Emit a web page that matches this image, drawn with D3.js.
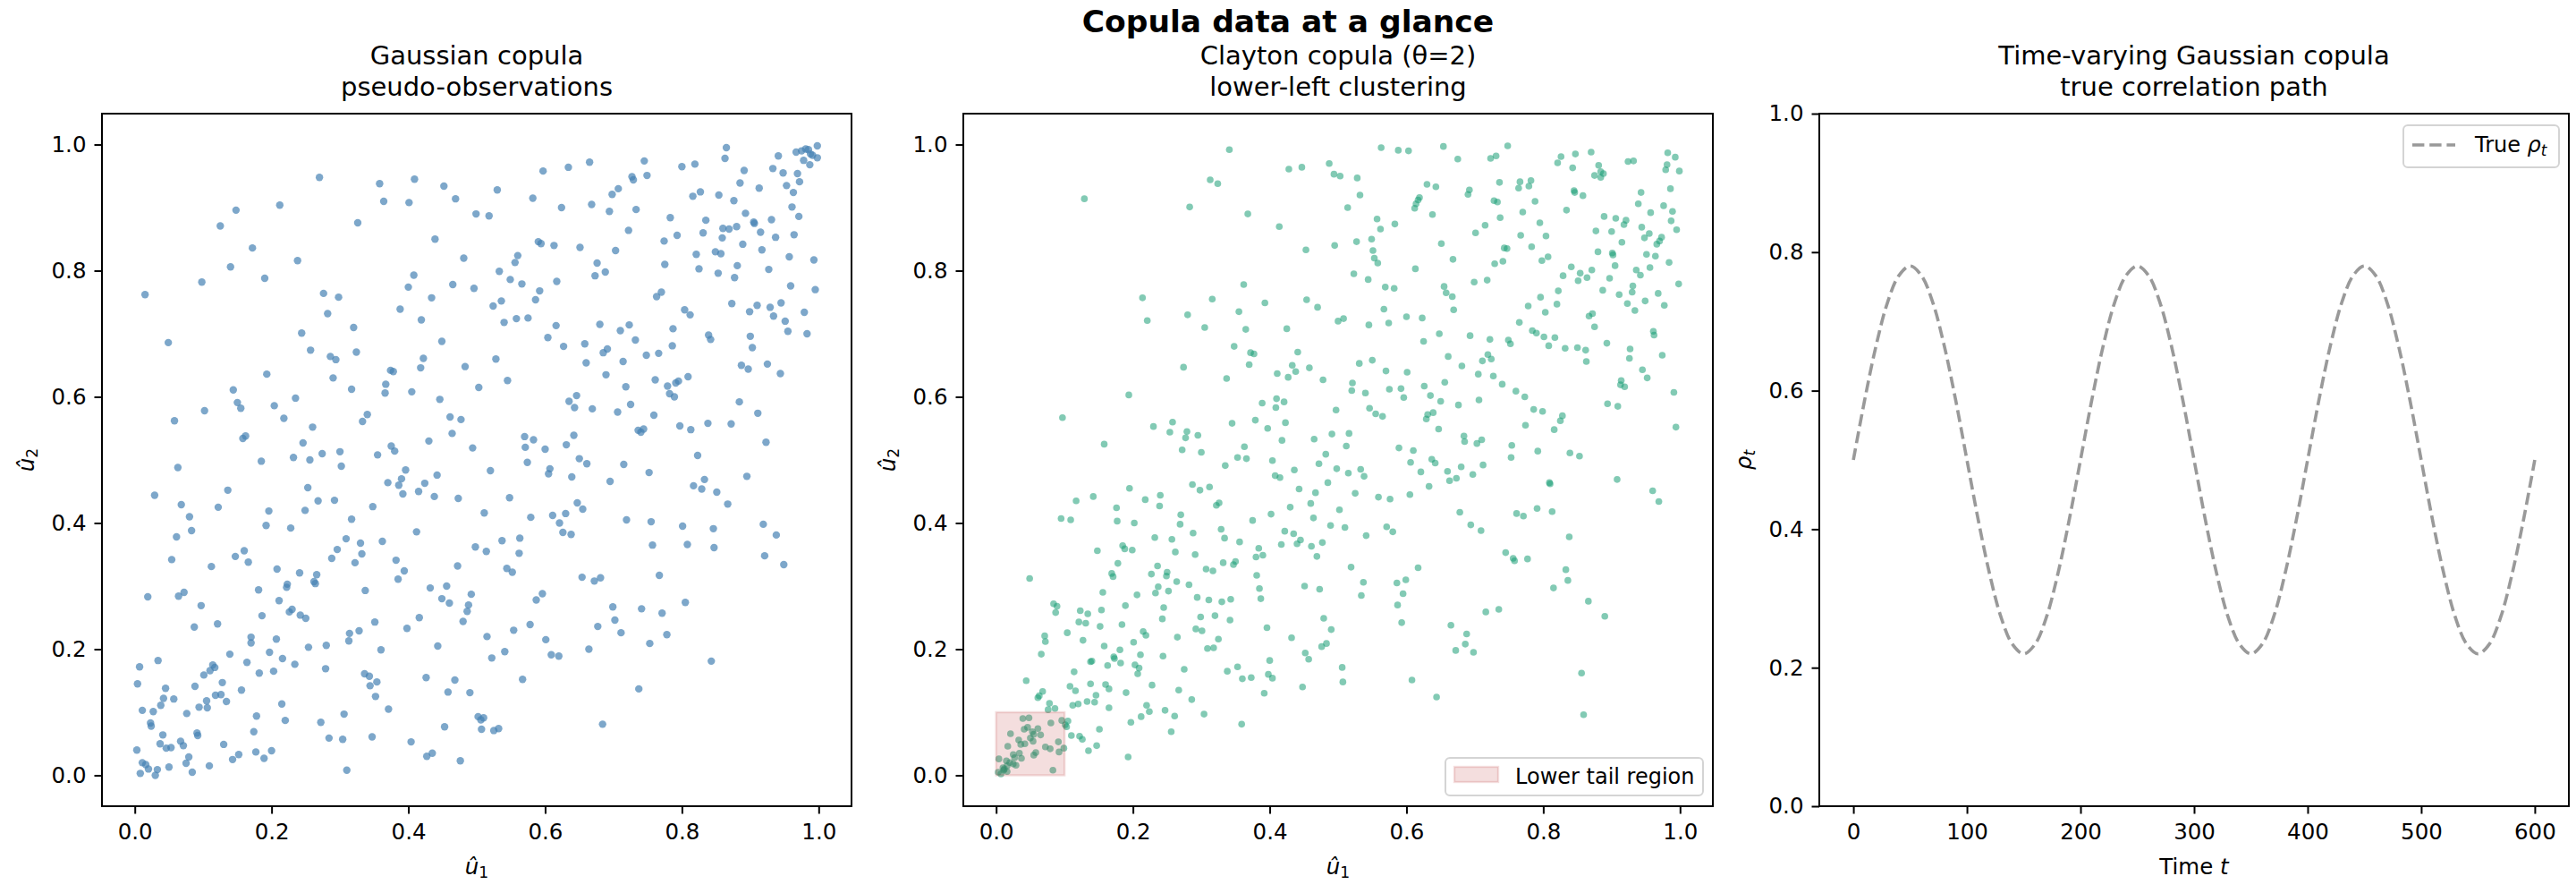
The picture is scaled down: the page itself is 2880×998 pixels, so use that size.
<!DOCTYPE html>
<html>
<head>
<meta charset="utf-8">
<script src="https://d3js.org/d3.v7.min.js"></script>
<style>
  body { margin: 0; background: #fff; }
  svg { display: block; }
</style>
</head>
<body>
<script>
// pseudo-observations, [u1, u2]
const gaussianPoints = [
  [0.270,0.948],[0.358,0.938],[0.409,0.945],[0.452,0.934],[0.469,0.914],[0.364,0.910],[0.401,0.908],[0.212,0.904],[0.148,0.896],[0.125,0.871],
  [0.326,0.876],[0.439,0.850],[0.172,0.836],[0.238,0.816],[0.140,0.806],[0.481,0.820],[0.408,0.793],[0.098,0.782],[0.190,0.788],[0.465,0.778],
  [0.400,0.774],[0.015,0.762],[0.276,0.764],[0.298,0.758],[0.434,0.757],[0.388,0.739],[0.282,0.732],[0.419,0.722],[0.320,0.710],[0.244,0.701],
  [0.449,0.688],[0.049,0.686],[0.257,0.674],[0.286,0.664],[0.294,0.659],[0.324,0.671],[0.422,0.661],[0.418,0.646],[0.374,0.642],[0.378,0.640],
  [0.193,0.636],[0.290,0.630],[0.367,0.620],[0.144,0.611],[0.317,0.612],[0.366,0.606],[0.405,0.608],[0.235,0.598],[0.446,0.596],[0.150,0.591],
  [0.155,0.582],[0.204,0.586],[0.102,0.578],[0.340,0.572],[0.058,0.562],[0.218,0.566],[0.333,0.561],[0.461,0.568],[0.477,0.564],[0.260,0.552],
  [0.464,0.542],[0.158,0.534],[0.162,0.538],[0.430,0.530],[0.246,0.527],[0.375,0.522],[0.380,0.514],[0.274,0.510],[0.300,0.513],[0.355,0.508],
  [0.865,0.995],[0.863,0.978],[0.967,0.988],[0.975,0.990],[0.981,0.993],[0.985,0.992],[0.988,0.985],[0.991,0.983],[0.998,0.998],[0.998,0.979],
  [0.978,0.975],[0.987,0.968],[0.941,0.982],[0.933,0.962],[0.948,0.955],[0.969,0.954],[0.972,0.941],[0.953,0.935],[0.963,0.924],[0.961,0.901],
  [0.971,0.886],[0.964,0.857],[0.937,0.853],[0.931,0.881],[0.913,0.931],[0.891,0.959],[0.885,0.939],[0.876,0.911],[0.854,0.920],[0.827,0.925],
  [0.816,0.918],[0.819,0.969],[0.800,0.965],[0.745,0.974],[0.749,0.951],[0.727,0.949],[0.729,0.944],[0.707,0.930],[0.698,0.921],[0.665,0.972],
  [0.634,0.964],[0.597,0.958],[0.582,0.915],[0.530,0.928],[0.499,0.890],[0.518,0.887],[0.624,0.900],[0.668,0.905],[0.694,0.894],[0.733,0.897],
  [0.783,0.884],[0.722,0.864],[0.793,0.856],[0.774,0.847],[0.835,0.880],[0.831,0.860],[0.860,0.867],[0.869,0.866],[0.880,0.870],[0.859,0.852],
  [0.893,0.891],[0.905,0.877],[0.906,0.875],[0.915,0.861],[0.889,0.842],[0.917,0.833],[0.849,0.830],[0.857,0.827],[0.821,0.826],[0.825,0.803],
  [0.853,0.796],[0.877,0.789],[0.881,0.808],[0.927,0.802],[0.957,0.822],[0.993,0.817],[0.959,0.776],[0.995,0.770],[0.590,0.846],[0.594,0.843],
  [0.613,0.840],[0.651,0.837],[0.703,0.832],[0.560,0.824],[0.556,0.813],[0.533,0.799],[0.549,0.786],[0.566,0.779],[0.496,0.772],[0.617,0.783],
  [0.676,0.812],[0.688,0.798],[0.673,0.792],[0.775,0.810],[0.592,0.768],[0.586,0.754],[0.536,0.752],[0.524,0.744],[0.540,0.718],[0.558,0.724],
  [0.575,0.725],[0.616,0.713],[0.604,0.694],[0.627,0.680],[0.658,0.684],[0.680,0.715],[0.710,0.705],[0.723,0.714],[0.732,0.690],[0.685,0.670],
  [0.691,0.676],[0.714,0.656],[0.748,0.666],[0.766,0.669],[0.660,0.654],[0.689,0.635],[0.718,0.616],[0.761,0.627],[0.779,0.617],[0.782,0.605],
  [0.789,0.600],[0.791,0.622],[0.795,0.625],[0.809,0.632],[0.786,0.681],[0.787,0.708],[0.804,0.738],[0.812,0.730],[0.763,0.759],[0.770,0.766],
  [0.873,0.748],[0.899,0.735],[0.910,0.745],[0.929,0.742],[0.945,0.749],[0.934,0.728],[0.951,0.720],[0.955,0.704],[0.979,0.734],[0.983,0.700],
  [0.900,0.696],[0.903,0.678],[0.839,0.698],[0.842,0.691],[0.887,0.650],[0.897,0.644],[0.925,0.652],[0.944,0.637],[0.884,0.592],[0.911,0.574],
  [0.923,0.528],[0.872,0.557],[0.838,0.558],[0.813,0.548],[0.797,0.554],[0.823,0.507],[0.759,0.571],[0.725,0.588],[0.706,0.576],[0.669,0.581],
  [0.643,0.583],[0.635,0.593],[0.646,0.602],[0.736,0.547],[0.740,0.544],[0.744,0.549],[0.642,0.539],[0.631,0.524],[0.570,0.537],[0.583,0.532],
  [0.571,0.520],[0.600,0.517],[0.494,0.519],[0.483,0.648],[0.528,0.660],[0.503,0.615],[0.545,0.626],
  [0.185,0.498],[0.232,0.504],[0.256,0.500],[0.302,0.490],[0.063,0.488],[0.029,0.444],[0.068,0.429],[0.136,0.452],[0.122,0.425],[0.080,0.410],
  [0.083,0.388],[0.061,0.378],[0.054,0.342],[0.112,0.331],[0.147,0.347],[0.160,0.356],[0.166,0.338],[0.196,0.419],[0.192,0.396],[0.228,0.392],
  [0.249,0.420],[0.253,0.456],[0.268,0.435],[0.292,0.436],[0.317,0.406],[0.309,0.375],[0.296,0.358],[0.288,0.344],[0.330,0.368],[0.332,0.351],
  [0.322,0.337],[0.348,0.426],[0.370,0.464],[0.386,0.460],[0.390,0.470],[0.396,0.484],[0.392,0.446],[0.415,0.450],[0.424,0.463],[0.442,0.476],
  [0.438,0.442],[0.473,0.439],[0.412,0.386],[0.362,0.371],[0.382,0.341],[0.394,0.324],[0.385,0.311],[0.337,0.293],[0.432,0.297],[0.456,0.300],
  [0.449,0.280],[0.460,0.273],[0.472,0.332],[0.480,0.244],[0.019,0.283],[0.064,0.284],[0.072,0.290],[0.097,0.269],[0.087,0.235],[0.121,0.240],
  [0.181,0.294],[0.208,0.327],[0.241,0.321],[0.223,0.303],[0.222,0.298],[0.211,0.277],[0.186,0.253],[0.226,0.259],[0.230,0.263],[0.242,0.254],
  [0.250,0.249],[0.266,0.318],[0.262,0.307],[0.264,0.304],[0.170,0.219],[0.170,0.210],[0.207,0.216],[0.197,0.195],[0.216,0.185],[0.234,0.176],
  [0.254,0.203],[0.280,0.206],[0.314,0.225],[0.313,0.213],[0.328,0.229],[0.351,0.243],[0.360,0.199],[0.398,0.233],[0.416,0.250],[0.443,0.205],
  [0.139,0.192],[0.164,0.179],[0.034,0.182],[0.007,0.172],[0.004,0.145],[0.114,0.175],[0.117,0.171],[0.110,0.166],[0.101,0.159],[0.182,0.162],
  [0.203,0.165],[0.279,0.169],[0.336,0.161],[0.343,0.157],[0.354,0.148],[0.344,0.142],[0.352,0.125],[0.371,0.105],[0.426,0.155],[0.468,0.151],
  [0.458,0.132],[0.045,0.138],[0.042,0.122],[0.057,0.121],[0.038,0.111],[0.088,0.141],[0.128,0.147],[0.156,0.135],[0.118,0.127],[0.126,0.128],
  [0.134,0.117],[0.105,0.118],[0.094,0.108],[0.106,0.107],[0.076,0.098],[0.011,0.103],[0.027,0.101],[0.023,0.083],[0.024,0.078],[0.215,0.113],
  [0.178,0.094],[0.220,0.087],[0.272,0.084],[0.306,0.097],[0.041,0.064],[0.091,0.067],[0.092,0.063],[0.174,0.069],[0.067,0.054],[0.071,0.047],
  [0.037,0.050],[0.046,0.043],[0.053,0.044],[0.003,0.040],[0.130,0.049],[0.152,0.033],[0.143,0.025],[0.177,0.037],[0.200,0.039],[0.189,0.027],
  [0.284,0.059],[0.304,0.057],[0.347,0.061],[0.404,0.053],[0.427,0.030],[0.435,0.035],[0.453,0.077],[0.476,0.023],[0.310,0.008],[0.079,0.029],
  [0.075,0.019],[0.011,0.020],[0.016,0.017],[0.020,0.010],[0.033,0.009],[0.050,0.013],[0.008,0.003],[0.030,0.000],[0.084,0.005],[0.109,0.015],
  [0.574,0.496],[0.520,0.483],[0.607,0.486],[0.605,0.478],[0.650,0.502],[0.661,0.494],[0.715,0.493],[0.752,0.480],[0.639,0.473],[0.695,0.466],
  [0.817,0.459],[0.829,0.454],[0.833,0.469],[0.851,0.449],[0.867,0.430],[0.895,0.474],[0.548,0.440],[0.511,0.416],[0.579,0.409],[0.611,0.412],
  [0.621,0.400],[0.630,0.415],[0.647,0.432],[0.655,0.422],[0.626,0.385],[0.638,0.382],[0.719,0.405],[0.755,0.402],[0.801,0.395],[0.846,0.391],
  [0.919,0.398],[0.938,0.381],[0.921,0.348],[0.949,0.334],[0.537,0.372],[0.563,0.376],[0.498,0.362],[0.514,0.355],[0.562,0.352],[0.544,0.328],
  [0.552,0.322],[0.654,0.314],[0.672,0.308],[0.681,0.313],[0.757,0.365],[0.808,0.366],[0.847,0.361],[0.767,0.317],[0.492,0.287],[0.488,0.270],
  [0.486,0.260],[0.596,0.288],[0.587,0.278],[0.699,0.267],[0.741,0.264],[0.771,0.257],[0.805,0.274],[0.702,0.246],[0.677,0.236],[0.711,0.226],
  [0.778,0.223],[0.753,0.209],[0.554,0.230],[0.578,0.239],[0.515,0.220],[0.601,0.215],[0.541,0.196],[0.522,0.186],[0.609,0.191],[0.620,0.189],
  [0.664,0.200],[0.843,0.181],[0.567,0.152],[0.737,0.137],[0.490,0.131],[0.502,0.093],[0.506,0.088],[0.510,0.091],[0.507,0.073],[0.525,0.071],
  [0.532,0.074],[0.684,0.081]
];

const claytonPoints = [
  [0.341,0.992],[0.428,0.961],[0.447,0.964],[0.313,0.944],[0.324,0.938],[0.129,0.914],[0.283,0.901],[0.368,0.890],[0.414,0.870],[0.453,0.833],
  [0.362,0.778],[0.214,0.757],[0.316,0.755],[0.393,0.749],[0.454,0.754],[0.355,0.735],[0.221,0.721],[0.280,0.730],[0.305,0.710],[0.365,0.707],
  [0.425,0.708],[0.348,0.680],[0.372,0.670],[0.377,0.668],[0.441,0.671],[0.274,0.647],[0.370,0.651],[0.433,0.650],[0.438,0.640],[0.458,0.646],
  [0.411,0.637],[0.427,0.631],[0.337,0.629],[0.194,0.603],[0.410,0.597],[0.421,0.592],[0.389,0.590],[0.409,0.583],[0.097,0.567],[0.258,0.560],
  [0.230,0.553],[0.345,0.558],[0.379,0.563],[0.423,0.559],[0.397,0.550],[0.254,0.544],[0.279,0.545],[0.277,0.535],[0.295,0.539],[0.418,0.531],
  [0.465,0.533],[0.158,0.525],[0.272,0.516],[0.300,0.512],[0.363,0.521],
  [0.563,0.995],[0.588,0.991],[0.603,0.990],[0.654,0.997],[0.675,0.977],[0.723,0.978],[0.731,0.982],[0.748,0.998],[0.821,0.971],[0.826,0.981],
  [0.847,0.985],[0.843,0.963],[0.870,0.988],[0.881,0.967],[0.884,0.957],[0.888,0.954],[0.875,0.951],[0.884,0.948],[0.924,0.973],[0.932,0.974],
  [0.982,0.987],[0.993,0.980],[0.981,0.968],[0.979,0.960],[0.999,0.958],[0.487,0.970],[0.494,0.953],[0.503,0.950],[0.528,0.947],[0.630,0.937],
  [0.643,0.933],[0.692,0.928],[0.690,0.921],[0.619,0.916],[0.617,0.912],[0.614,0.906],[0.612,0.899],[0.532,0.920],[0.514,0.900],[0.638,0.889],
  [0.736,0.940],[0.766,0.941],[0.782,0.943],[0.764,0.931],[0.779,0.934],[0.728,0.911],[0.733,0.909],[0.788,0.910],[0.770,0.893],[0.737,0.884],
  [0.845,0.927],[0.846,0.924],[0.858,0.919],[0.943,0.924],[0.986,0.930],[0.939,0.906],[0.976,0.903],[0.989,0.894],[0.957,0.892],[0.834,0.896],
  [0.889,0.886],[0.906,0.883],[0.921,0.880],[0.918,0.873],[0.557,0.882],[0.562,0.866],[0.583,0.874],[0.549,0.850],[0.527,0.846],[0.495,0.840],
  [0.551,0.832],[0.553,0.820],[0.558,0.812],[0.651,0.843],[0.668,0.818],[0.701,0.860],[0.715,0.872],[0.767,0.856],[0.795,0.876],[0.804,0.855],
  [0.783,0.838],[0.743,0.836],[0.747,0.835],[0.729,0.811],[0.741,0.815],[0.798,0.816],[0.807,0.822],[0.877,0.863],[0.900,0.862],[0.944,0.869],
  [0.955,0.859],[0.948,0.852],[0.973,0.853],[0.970,0.847],[0.966,0.842],[0.995,0.865],[0.987,0.879],[0.915,0.845],[0.880,0.830],[0.901,0.828],
  [0.902,0.825],[0.951,0.826],[0.964,0.823],[0.984,0.813],[0.998,0.779],[0.613,0.803],[0.523,0.795],[0.544,0.786],[0.569,0.774],[0.582,0.772],
  [0.655,0.775],[0.658,0.765],[0.667,0.759],[0.669,0.738],[0.699,0.782],[0.718,0.785],[0.841,0.806],[0.854,0.796],[0.864,0.789],[0.871,0.801],
  [0.851,0.784],[0.829,0.792],[0.822,0.768],[0.796,0.758],[0.778,0.744],[0.803,0.734],[0.820,0.747],[0.905,0.808],[0.936,0.801],[0.942,0.793],
  [0.956,0.805],[0.897,0.788],[0.887,0.769],[0.911,0.762],[0.931,0.776],[0.930,0.766],[0.923,0.748],[0.934,0.737],[0.949,0.752],[0.968,0.764],
  [0.977,0.745],[0.470,0.742],[0.567,0.739],[0.500,0.720],[0.508,0.724],[0.545,0.714],[0.574,0.717],[0.600,0.727],[0.623,0.725],[0.648,0.700],
  [0.625,0.688],[0.661,0.664],[0.693,0.697],[0.722,0.691],[0.749,0.690],[0.752,0.684],[0.719,0.667],[0.711,0.657],[0.724,0.660],[0.765,0.718],
  [0.784,0.705],[0.790,0.701],[0.801,0.695],[0.817,0.694],[0.808,0.681],[0.832,0.677],[0.850,0.678],[0.862,0.674],[0.863,0.656],[0.867,0.728],
  [0.872,0.732],[0.875,0.711],[0.893,0.685],[0.927,0.676],[0.926,0.661],[0.961,0.704],[0.962,0.698],[0.974,0.666],[0.531,0.653],[0.550,0.658],
  [0.478,0.627],[0.521,0.622],[0.520,0.610],[0.540,0.606],[0.570,0.641],[0.601,0.639],[0.575,0.612],[0.592,0.613],[0.596,0.599],[0.626,0.617],
  [0.635,0.602],[0.650,0.593],[0.656,0.623],[0.681,0.649],[0.705,0.636],[0.727,0.633],[0.740,0.620],[0.760,0.609],[0.773,0.600],[0.706,0.595],
  [0.676,0.587],[0.497,0.579],[0.546,0.582],[0.555,0.573],[0.565,0.569],[0.629,0.565],[0.631,0.572],[0.639,0.575],[0.647,0.549],[0.786,0.580],
  [0.799,0.577],[0.828,0.570],[0.825,0.562],[0.816,0.548],[0.774,0.555],[0.945,0.643],[0.952,0.630],[0.914,0.626],[0.913,0.619],[0.919,0.616],
  [0.991,0.607],[0.894,0.589],[0.909,0.585],[0.994,0.552],[0.491,0.541],[0.516,0.542],[0.512,0.522],[0.482,0.509],[0.589,0.519],[0.610,0.515],
  [0.684,0.538],[0.685,0.529],[0.703,0.526],[0.710,0.532],[0.754,0.523],[0.792,0.514],[0.839,0.511],[0.853,0.506],
  [0.353,0.504],[0.366,0.502],[0.404,0.499],[0.335,0.491],[0.436,0.484],[0.408,0.475],[0.415,0.472],[0.287,0.461],[0.298,0.452],[0.312,0.457],
  [0.195,0.455],[0.117,0.435],[0.142,0.442],[0.176,0.424],[0.218,0.437],[0.240,0.444],[0.239,0.427],[0.322,0.428],[0.326,0.432],[0.443,0.454],
  [0.460,0.431],[0.430,0.425],[0.402,0.414],[0.464,0.408],[0.270,0.413],[0.269,0.398],[0.095,0.407],[0.109,0.405],[0.177,0.403],[0.202,0.400],
  [0.329,0.390],[0.334,0.376],[0.288,0.384],[0.232,0.377],[0.257,0.374],[0.375,0.404],[0.422,0.387],[0.435,0.383],[0.445,0.373],[0.440,0.367],
  [0.417,0.366],[0.461,0.363],[0.356,0.370],[0.384,0.360],[0.380,0.346],[0.390,0.349],[0.262,0.354],[0.291,0.350],[0.148,0.356],[0.185,0.364],
  [0.188,0.359],[0.199,0.357],[0.178,0.336],[0.169,0.320],[0.171,0.315],[0.227,0.319],[0.236,0.332],[0.250,0.322],[0.249,0.316],[0.264,0.307],
  [0.307,0.327],[0.317,0.324],[0.332,0.337],[0.347,0.334],[0.350,0.339],[0.381,0.317],[0.385,0.296],[0.387,0.280],[0.451,0.300],[0.049,0.312],
  [0.237,0.299],[0.233,0.289],[0.252,0.292],[0.282,0.302],[0.156,0.290],[0.206,0.286],[0.294,0.282],[0.311,0.278],[0.330,0.275],[0.343,0.279],
  [0.084,0.272],[0.089,0.268],[0.087,0.258],[0.189,0.269],[0.245,0.266],[0.243,0.248],[0.299,0.251],[0.320,0.253],[0.342,0.246],[0.123,0.261],
  [0.134,0.256],[0.121,0.243],[0.131,0.241],[0.154,0.262],[0.152,0.236],[0.184,0.239],[0.104,0.226],[0.292,0.232],[0.301,0.229],[0.325,0.216],
  [0.309,0.201],[0.318,0.202],[0.396,0.234],[0.432,0.218],[0.265,0.219],[0.215,0.228],[0.219,0.222],[0.201,0.211],[0.071,0.221],[0.072,0.212],
  [0.127,0.214],[0.158,0.205],[0.066,0.192],[0.181,0.199],[0.211,0.191],[0.244,0.189],[0.140,0.181],[0.138,0.180],[0.172,0.188],[0.173,0.185],
  [0.182,0.178],[0.163,0.174],[0.203,0.175],[0.209,0.170],[0.207,0.161],[0.275,0.168],[0.338,0.165],[0.353,0.172],[0.360,0.153],[0.373,0.155],
  [0.398,0.160],[0.404,0.154],[0.400,0.182],[0.452,0.194],[0.457,0.184],[0.448,0.140],[0.392,0.130],[0.114,0.164],[0.044,0.150],[0.108,0.141],
  [0.116,0.134],[0.138,0.145],[0.160,0.144],[0.165,0.137],[0.146,0.127],[0.228,0.143],[0.267,0.135],[0.190,0.131],[0.068,0.133],[0.063,0.126],
  [0.061,0.123],[0.078,0.114],[0.076,0.104],[0.086,0.106],[0.112,0.111],[0.120,0.113],[0.133,0.117],[0.144,0.116],[0.165,0.107],[0.220,0.111],
  [0.224,0.101],[0.247,0.103],[0.261,0.094],[0.286,0.120],[0.304,0.097],[0.212,0.093],[0.197,0.084],[0.256,0.069],[0.359,0.081],[0.151,0.073],
  [0.110,0.063],[0.122,0.062],[0.126,0.057],[0.147,0.047],[0.135,0.039],[0.193,0.029],
  [0.039,0.090],[0.048,0.091],[0.080,0.083],[0.096,0.087],[0.105,0.086],[0.101,0.080],[0.103,0.077],[0.021,0.066],[0.041,0.073],[0.046,0.076],
  [0.053,0.069],[0.061,0.074],[0.065,0.064],[0.055,0.065],[0.033,0.056],[0.036,0.049],[0.042,0.050],[0.050,0.059],[0.054,0.054],[0.017,0.046],
  [0.091,0.053],[0.099,0.043],[0.072,0.045],[0.079,0.042],[0.092,0.037],[0.025,0.033],[0.034,0.035],[0.037,0.027],[0.027,0.028],[0.055,0.032],
  [0.058,0.036],[0.004,0.026],[0.015,0.023],[0.020,0.020],[0.025,0.018],[0.029,0.016],[0.010,0.012],[0.011,0.008],[0.016,0.006],[0.003,0.005],
  [0.007,0.002],[0.016,0.015],[0.012,0.010],[0.083,0.008],
  [0.472,0.494],[0.498,0.486],[0.515,0.479],[0.533,0.485],[0.538,0.474],[0.485,0.464],[0.606,0.496],[0.637,0.501],[0.642,0.495],[0.621,0.481],
  [0.660,0.482],[0.680,0.489],[0.663,0.467],[0.673,0.471],[0.697,0.477],[0.712,0.492],[0.753,0.504],[0.633,0.458],[0.605,0.445],[0.525,0.447],
  [0.559,0.441],[0.576,0.438],[0.467,0.448],[0.502,0.421],[0.489,0.396],[0.510,0.393],[0.541,0.380],[0.571,0.394],[0.580,0.386],[0.477,0.369],
  [0.469,0.347],[0.519,0.330],[0.537,0.306],[0.534,0.285],[0.473,0.295],[0.586,0.305],[0.599,0.310],[0.595,0.288],[0.587,0.270],[0.617,0.329],
  [0.479,0.249],[0.490,0.231],[0.476,0.204],[0.483,0.209],[0.593,0.242],[0.506,0.171],[0.507,0.148],[0.608,0.151],[0.644,0.124],[0.678,0.417],
  [0.694,0.397],[0.709,0.388],[0.761,0.415],[0.771,0.411],[0.791,0.423],[0.813,0.418],[0.809,0.464],[0.810,0.462],[0.908,0.469],[0.960,0.451],
  [0.969,0.434],[0.838,0.378],[0.745,0.353],[0.756,0.344],[0.758,0.340],[0.777,0.343],[0.833,0.326],[0.836,0.309],[0.815,0.297],[0.866,0.276],
  [0.890,0.252],[0.716,0.259],[0.735,0.263],[0.665,0.238],[0.688,0.224],[0.686,0.208],[0.672,0.198],[0.698,0.195],[0.856,0.162],[0.859,0.096]
];

const timeSteps = [
  0,10,20,30,40,50,60,70,80,90,100,110,120,130,140,150,160,170,180,190,
  200,210,220,230,240,250,260,270,280,290,300,310,320,330,340,350,360,370,380,390,
  400,410,420,430,440,450,460,470,480,490,500,510,520,530,540,550,560,570,580,590,600
];
const trueRho = [
  0.500,0.587,0.665,0.727,0.766,0.780,0.766,0.727,0.665,0.587,0.500,0.413,0.335,0.273,0.234,0.220,0.234,0.273,0.335,0.413,
  0.500,0.587,0.665,0.727,0.766,0.780,0.766,0.727,0.665,0.587,0.500,0.413,0.335,0.273,0.234,0.220,0.234,0.273,0.335,0.413,
  0.500,0.587,0.665,0.727,0.766,0.780,0.766,0.727,0.665,0.587,0.500,0.413,0.335,0.273,0.234,0.220,0.234,0.273,0.335,0.413,0.500
];

const unitTicks = [0, 0.2, 0.4, 0.6, 0.8, 1.0];
const timeTicks = [0, 100, 200, 300, 400, 500, 600];
const tailBox = [0, 0.1];

const panelTitles = [
  ["Gaussian copula", "pseudo-observations"],
  ["Clayton copula (θ=2)", "lower-left clustering"],
  ["Time-varying Gaussian copula", "true correlation path"]
];
const figTitle = "Copula data at a glance";

const width = 2880;
const height = 998;
const panelTop = 127;
const panelW = 838;
const panelH = 774;
const panelLefts = [114, 1077, 2034];
const FONT = "'DejaVu Sans', sans-serif";

const svg = d3
  .select("body")
  .append("svg")
  .attr("width", width)
  .attr("height", height)
  .attr("font-family", FONT);

svg.append("rect").attr("width", width).attr("height", height).attr("fill", "#fff");

const makePanel = (i, xDomain, yDomain) => {
  const g = svg.append("g").attr("transform", `translate(${panelLefts[i]},${panelTop})`);
  const x = d3.scaleLinear().domain(xDomain).range([0, panelW]);
  const y = d3.scaleLinear().domain(yDomain).range([panelH, 0]);
  return { g, x, y };
};

const styleAxis = (sel) => {
  sel.select(".domain").remove();
  sel.attr("font-family", FONT).attr("font-size", 24.5);
  sel.selectAll(".tick line").attr("stroke", "#000").attr("stroke-width", 2);
  sel.selectAll(".tick text").attr("fill", "#000");
};

const drawAxes = (p, xTicks, yTicks, xFmt, yFmt) => {
  p.g
    .append("g")
    .attr("transform", `translate(0,${panelH})`)
    .call(d3.axisBottom(p.x).tickValues(xTicks).tickFormat(xFmt).tickSize(8.5).tickPadding(11).tickSizeOuter(0))
    .call(styleAxis);

  p.g
    .append("g")
    .call(d3.axisLeft(p.y).tickValues(yTicks).tickFormat(yFmt).tickSize(8.5).tickPadding(9).tickSizeOuter(0))
    .call(styleAxis);

  p.g
    .append("rect")
    .attr("width", panelW)
    .attr("height", panelH)
    .attr("fill", "none")
    .attr("stroke", "#000")
    .attr("stroke-width", 2);
};

const drawTitle = (i) => {
  const t = svg
    .append("text")
    .attr("x", panelLefts[i] + panelW / 2)
    .attr("y", 72)
    .attr("text-anchor", "middle")
    .attr("font-size", 29);
  t.append("tspan").text(panelTitles[i][0]);
  t.append("tspan").attr("x", panelLefts[i] + panelW / 2).attr("dy", 34.5).text(panelTitles[i][1]);
};

// math-style labels: italic symbol with a small subscript
const mathLabel = (sel, sym, sub, subItalic) => {
  sel.append("tspan").attr("font-style", "italic").text(sym);
  sel
    .append("tspan")
    .attr("font-size", "70%")
    .attr("dy", "0.25em")
    .attr("font-style", subItalic ? "italic" : "normal")
    .text(sub);
};

const xLabel = (i) =>
  svg
    .append("text")
    .attr("x", panelLefts[i] + panelW / 2)
    .attr("y", 977)
    .attr("text-anchor", "middle")
    .attr("font-size", 24.5);

const yLabel = (i) =>
  svg
    .append("text")
    .attr("transform", `translate(${panelLefts[i] - 76},${panelTop + panelH / 2}) rotate(-90)`)
    .attr("text-anchor", "middle")
    .attr("font-size", 24.5);

const fmt1 = d3.format(".1f");
const fmtInt = d3.format("d");

// panel 1: gaussian copula
const p1 = makePanel(0, [-0.048, 1.048], [-0.049, 1.049]);
p1.g
  .selectAll("circle")
  .data(gaussianPoints)
  .enter()
  .append("circle")
  .attr("cx", (d) => p1.x(d[0]))
  .attr("cy", (d) => p1.y(d[1]))
  .attr("r", 4.2)
  .attr("fill", "#4682b4")
  .attr("fill-opacity", 0.7);
drawAxes(p1, unitTicks, unitTicks, fmt1, fmt1);
drawTitle(0);
mathLabel(xLabel(0), "û", "1", false);
mathLabel(yLabel(0), "û", "2", false);

// panel 2: clayton copula
const p2 = makePanel(1, [-0.048, 1.048], [-0.049, 1.049]);
p2.g
  .selectAll("circle")
  .data(claytonPoints)
  .enter()
  .append("circle")
  .attr("cx", (d) => p2.x(d[0]))
  .attr("cy", (d) => p2.y(d[1]))
  .attr("r", 3.8)
  .attr("fill", "#1b9e77")
  .attr("fill-opacity", 0.55);

p2.g
  .append("rect")
  .attr("x", p2.x(tailBox[0]))
  .attr("y", p2.y(tailBox[1]))
  .attr("width", p2.x(tailBox[1]) - p2.x(tailBox[0]))
  .attr("height", p2.y(tailBox[0]) - p2.y(tailBox[1]))
  .attr("fill", "#b22222")
  .attr("fill-opacity", 0.15)
  .attr("stroke", "#b22222")
  .attr("stroke-opacity", 0.15)
  .attr("stroke-width", 2.4);
drawAxes(p2, unitTicks, unitTicks, fmt1, fmt1);
drawTitle(1);
mathLabel(xLabel(1), "û", "1", false);
mathLabel(yLabel(1), "û", "2", false);

const leg2 = p2.g.append("g").attr("transform", `translate(${panelW - 299},${panelH - 54})`);
leg2
  .append("rect")
  .attr("width", 288)
  .attr("height", 42)
  .attr("rx", 5)
  .attr("fill", "#fff")
  .attr("fill-opacity", 0.8)
  .attr("stroke", "#d4d4d4")
  .attr("stroke-width", 2);
leg2
  .append("rect")
  .attr("x", 10)
  .attr("y", 10)
  .attr("width", 49)
  .attr("height", 17)
  .attr("fill", "#b22222")
  .attr("fill-opacity", 0.15)
  .attr("stroke", "#b22222")
  .attr("stroke-opacity", 0.15)
  .attr("stroke-width", 2.4);
leg2
  .append("text")
  .attr("x", 78)
  .attr("y", 29)
  .attr("font-size", 24)
  .text("Lower tail region");

// panel 3: correlation path
const p3 = makePanel(2, [-30, 630], [0, 1]);
const rhoLine = d3
  .line()
  .x((d, i) => p3.x(timeSteps[i]))
  .y((d) => p3.y(d))
  .curve(d3.curveCatmullRom);
p3.g
  .append("path")
  .datum(trueRho)
  .attr("d", rhoLine)
  .attr("fill", "none")
  .attr("stroke", "#808080")
  .attr("stroke-opacity", 0.8)
  .attr("stroke-width", 3.6)
  .attr("stroke-dasharray", "13.4,5.8");
drawAxes(p3, timeTicks, unitTicks, fmtInt, fmt1);
drawTitle(2);

const tl = xLabel(2);
tl.append("tspan").text("Time ");
tl.append("tspan").attr("font-style", "italic").text("t");
mathLabel(yLabel(2), "ρ", "t", true);

const leg3 = p3.g.append("g").attr("transform", `translate(${panelW - 185},13)`);
leg3
  .append("rect")
  .attr("width", 174)
  .attr("height", 47)
  .attr("rx", 5)
  .attr("fill", "#fff")
  .attr("fill-opacity", 0.8)
  .attr("stroke", "#d4d4d4")
  .attr("stroke-width", 2);
leg3
  .append("line")
  .attr("x1", 10)
  .attr("x2", 58)
  .attr("y1", 22)
  .attr("y2", 22)
  .attr("stroke", "#808080")
  .attr("stroke-opacity", 0.8)
  .attr("stroke-width", 3.6)
  .attr("stroke-dasharray", "13.4,5.8");
const lt = leg3.append("text").attr("x", 80).attr("y", 30).attr("font-size", 24);
lt.append("tspan").text("True ");
mathLabel(lt, "ρ", "t", true);

svg
  .append("text")
  .attr("x", width / 2)
  .attr("y", 36)
  .attr("text-anchor", "middle")
  .attr("font-size", 34.5)
  .attr("font-weight", "bold")
  .text(figTitle);
</script>
</body>
</html>
